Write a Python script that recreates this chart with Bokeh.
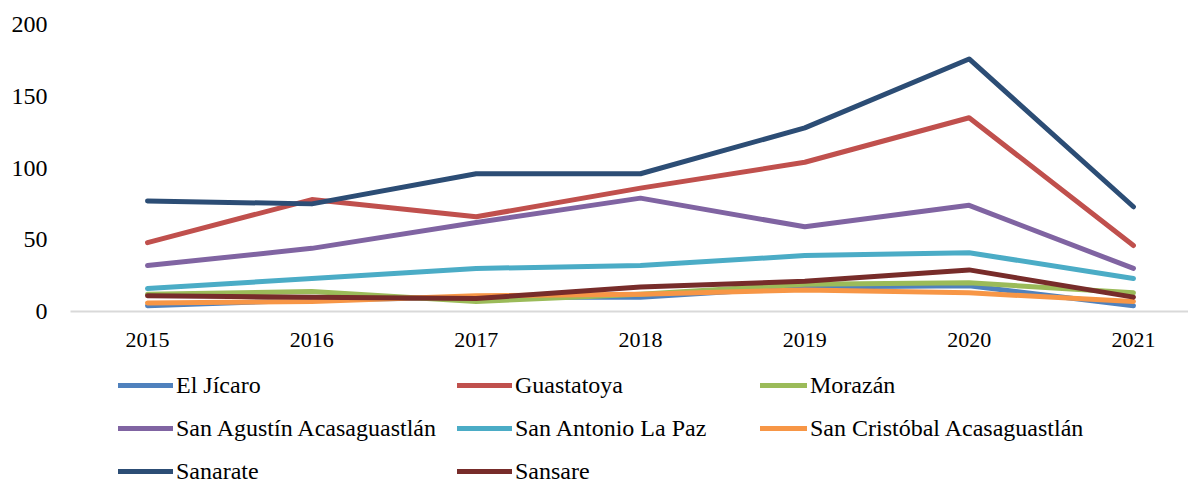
from bokeh.plotting import figure
from bokeh.models import Range1d, FixedTicker, Legend, LegendItem
from bokeh.layouts import column
from bokeh.embed import file_html
from bokeh.resources import INLINE

years = [2015, 2016, 2017, 2018, 2019, 2020, 2021]
el_jicaro = [4, 8, 10, 10, 17, 18, 4]
guastatoya = [48, 78, 66, 86, 104, 135, 46]
morazan = [12, 14, 7, 12, 19, 20, 13]
san_agustin = [32, 44, 62, 79, 59, 74, 30]
san_antonio = [16, 23, 30, 32, 39, 41, 23]
san_cristobal = [6, 7, 11, 12, 15, 13, 7]
sanarate = [77, 75, 96, 96, 128, 176, 73]
sansare = [11, 10, 9, 17, 21, 29, 10]

names = ["El Jícaro", "Guastatoya", "Morazán", "San Agustín Acasaguastlán",
         "San Antonio La Paz", "San Cristóbal Acasaguastlán", "Sanarate", "Sansare"]
series = [el_jicaro, guastatoya, morazan, san_agustin, san_antonio,
          san_cristobal, sanarate, sansare]
colors = ["#4F81BD", "#C0504D", "#9BBB59", "#8064A2", "#4BACC6",
          "#F79646", "#2C4D75", "#772C2A"]
y_ticks = [0, 50, 100, 150, 200]

FONT = "Liberation Serif"
W = 1188
LEFT = 70

p = figure(width=W, height=361, output_backend="svg", toolbar_location=None,
           x_range=Range1d(2014.5314, 2021.335), y_range=Range1d(0, 200),
           min_border_left=LEFT, min_border_right=0, min_border_top=24,
           min_border_bottom=50)
p.outline_line_color = None
p.xgrid.visible = False
p.ygrid.visible = False

for name, vals, c in zip(names, series, colors):
    p.line(years, vals, line_color=c, line_width=5, line_cap="round",
           line_join="round")

p.xaxis.ticker = FixedTicker(ticks=years)
p.xaxis.axis_line_color = "#D9D9D9"
p.xaxis.axis_line_width = 2
p.xaxis.major_tick_line_color = None
p.xaxis.minor_tick_line_color = None
p.xaxis.major_label_text_font = FONT
p.xaxis.major_label_text_font_size = "22px"
p.xaxis.major_label_text_color = "black"
p.xaxis.major_label_standoff = 15

p.yaxis.ticker = FixedTicker(ticks=y_ticks)
p.yaxis.axis_line_color = None
p.yaxis.major_tick_line_color = None
p.yaxis.minor_tick_line_color = None
p.yaxis.major_label_text_font = FONT
p.yaxis.major_label_text_font_size = "24px"
p.yaxis.major_label_text_color = "black"
p.yaxis.major_label_standoff = 17

# legend panel (its frame is aligned with the main plot's frame)
LH = 124
p2 = figure(width=W, height=LH, output_backend="svg", toolbar_location=None,
            x_range=Range1d(0, 1), y_range=Range1d(0, 1),
            min_border_left=LEFT, min_border_right=0, min_border_top=0,
            min_border_bottom=0)
p2.outline_line_color = None
p2.xgrid.visible = False
p2.ygrid.visible = False
p2.xaxis.visible = False
p2.yaxis.visible = False

nan = float("nan")
leg_renderers = []
for c in colors:
    r = p2.line(x=[nan], y=[nan], line_color=c, line_width=5, line_cap="round")
    leg_renderers.append(r)

cols = [[0, 3, 6], [1, 4, 7], [2, 5]]
xs = [118 - LEFT, 457 - LEFT, 760 - LEFT]
gw = [55, 55, 47]
for idxs, x, w in zip(cols, xs, gw):
    items = [LegendItem(label=names[i], renderers=[leg_renderers[i]]) for i in idxs]
    n = len(idxs)
    leg = Legend(items=items, location=(x, 0 + (3 - n) * 43),
                 orientation="vertical", padding=0, margin=0, spacing=15,
                 glyph_width=w, glyph_height=28, label_height=28,
                 label_standoff=3, label_text_font=FONT,
                 label_text_font_size="24px", label_text_color="black",
                 border_line_alpha=0, background_fill_alpha=0)
    p2.add_layout(leg, "center")

layout = column(p, p2, spacing=0)
open("out.html", "w").write(file_html(layout, INLINE))
